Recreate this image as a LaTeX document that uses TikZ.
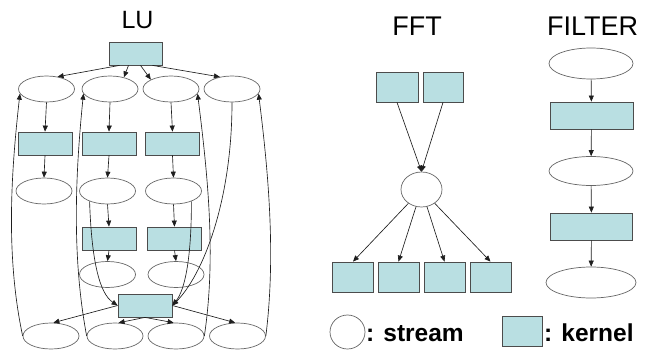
\documentclass[tikz,border=0pt]{standalone}
\usepackage{fontspec}
\setmainfont{Liberation Sans}
\usetikzlibrary{shapes.geometric,arrows.meta}
\definecolor{kfill}{RGB}{185,223,226}
\definecolor{edgec}{RGB}{30,30,30}
\begin{document}
\begin{tikzpicture}[x=1pt,y=-1pt,
 stream/.style={ellipse,draw=black!60,line width=0.7pt,fill=white,minimum width=56pt,minimum height=26pt,inner sep=0pt},
 kernel/.style={rectangle,draw=black!70,line width=0.8pt,fill=kfill,minimum width=54pt,minimum height=23pt,inner sep=0pt},
 arr/.style={draw=edgec,line width=0.65pt,-{Triangle[length=6pt,width=5pt]}},
 title/.style={anchor=base,font=\fontsize{27}{27}\selectfont},
 legend/.style={anchor=base west,inner sep=0pt,font=\fontsize{24.5}{24.5}\selectfont\bfseries}]
\useasboundingbox (0,0) rectangle (650,350);

% ---------- titles ----------
\node[title,font=\fontsize{25}{25}\selectfont] (tlu) at (137.5,28.5) {LU};
\node[title] (tfft) at (417,35.5) {FFT};
\node[title] (tfil) at (592.5,36) {FILTER};

% ---------- LU ----------
\node[kernel,minimum width=53pt] (k0) at (135.5,53.5) {};
\node[stream] (e11) at (46.5,89) {};
\node[stream] (e12) at (110,89) {};
\node[stream] (e13) at (171,89) {};
\node[stream] (e14) at (232,89) {};
\node[kernel] (k11) at (45,143.5) {};
\node[kernel] (k12) at (109,143.5) {};
\node[kernel] (k13) at (172.5,143.5) {};
\node[stream] (e21) at (44,191) {};
\node[stream] (e22) at (107.5,191) {};
\node[stream] (e23) at (173.5,191) {};
\node[kernel] (k22) at (109,238.5) {};
\node[kernel] (k23) at (174.5,238.5) {};
\node[stream] (e32) at (107.5,274.5) {};
\node[stream] (e33) at (176,274.5) {};
\node[kernel] (kb) at (145,305.5) {};
\node[stream] (b1) at (51,336) {};
\node[stream] (b2) at (115,336) {};
\node[stream] (b3) at (176,336) {};
\node[stream] (b4) at (237.5,336) {};

\draw[arr] ([xshift=-16pt]k0.south) -- (e11.48);
\draw[arr] ([xshift=-7pt]k0.south) -- (e12.40);
\draw[arr] ([xshift=5pt]k0.south) -- (e13.155);
\draw[arr] ([xshift=17pt]k0.south) -- (e14.135);

\draw[arr] (e11.south) -- (k11.north);
\draw[arr] (e12.south) -- (k12.north);
\draw[arr] (e13.south) -- (k13.north);
\draw[arr] (k11.south) -- (e21.north);
\draw[arr] (k12.south) -- (e22.north);
\draw[arr] (k13.south) -- (e23.north);
\draw[arr] (e22.south) -- (k22.north);
\draw[arr] (e23.south) -- (k23.north);
\draw[arr] (k22.south) -- (e32.north);
\draw[arr] (k23.south) -- (e33.north);

\draw[arr] (e22.210) .. controls +(2,60) and +(-18,-12) .. (kb.west);
\draw[arr] (e23.330) .. controls +(0,60) and +(12,-15) .. (kb.east);
\draw[arr] (e14.south) .. controls +(0,100) and +(30,-30) .. (kb.east);

\draw[arr] (b1.west) .. controls +(-17,-80) and +(-9,80) .. (e11.190);
\draw[arr] (b2.west) .. controls +(-15,-80) and +(-8,80) .. (e12.190);
\draw[arr] (b3.east) .. controls +(12,-80) and +(10,80) .. (e13.350);
\draw[arr] (b4.east) .. controls +(10,-80) and +(10,80) .. (e14.350);

\draw[arr] (kb.west) -- (b1.80);
\draw[arr] (kb.south) -- (b2.75);
\draw[arr] (kb.south) -- (b3.100);
\draw[arr] (kb.east) -- (b4.100);

% ---------- FFT ----------
\node[kernel,minimum width=42pt,minimum height=30pt] (fa) at (397,87) {};
\node[kernel,minimum width=40pt,minimum height=30pt] (fb) at (443,87) {};
\node[stream,minimum width=41pt,minimum height=35pt] (fc) at (421.5,189.5) {};
\node[kernel,minimum width=41pt,minimum height=30pt] (f1) at (353,277) {};
\node[kernel,minimum width=41pt,minimum height=30pt] (f2) at (398.5,277) {};
\node[kernel,minimum width=41pt,minimum height=30pt] (f3) at (444.5,277) {};
\node[kernel,minimum width=41pt,minimum height=30pt] (f4) at (490.5,277) {};
\draw[arr] (fa.south) -- (fc.north);
\draw[arr] (fb.south) -- (fc.north);
\draw[arr] (fc) -- (f1.north);
\draw[arr] (fc) -- (f2.north);
\draw[arr] (fc) -- (f3.north);
\draw[arr] (fc) -- (f4.north);

% ---------- FILTER ----------
\node[stream,minimum width=84pt,minimum height=31pt] (fe1) at (591,63.5) {};
\node[kernel,minimum width=83pt,minimum height=27pt] (fk1) at (591.5,115.5) {};
\node[stream,minimum width=84pt,minimum height=29pt] (fe2) at (591,171) {};
\node[kernel,minimum width=82pt,minimum height=27pt] (fk2) at (591.5,226.5) {};
\node[stream,minimum width=90pt,minimum height=31pt] (fe3) at (591,282.5) {};
\draw[arr] (fe1) -- (fk1);
\draw[arr] (fk1) -- (fe2);
\draw[arr] (fe2) -- (fk2);
\draw[arr] (fk2) -- (fe3);

% ---------- legend ----------
\node[stream,minimum width=35pt,minimum height=34pt] (lc) at (347.5,332) {};
\node[legend] (ls) at (366,341) {: stream};
\node[kernel,minimum width=40pt,minimum height=30.5pt] (lk) at (522.7,331.3) {};
\node[legend] (lkt) at (544,341) {: kernel};
\end{tikzpicture}
\end{document}
